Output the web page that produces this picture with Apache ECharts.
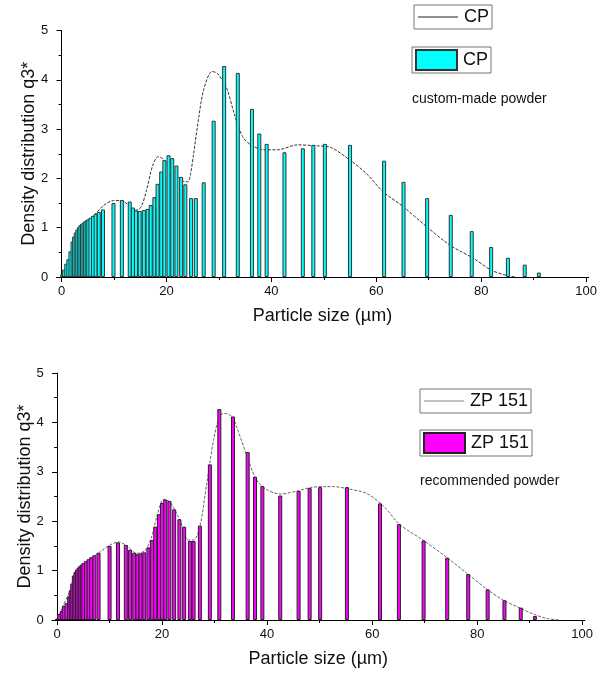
<!DOCTYPE html>
<html>
<head>
<meta charset="utf-8">
<script src="https://cdn.jsdelivr.net/npm/echarts@6/dist/echarts.min.js"></script>
<style>
  html, body { margin: 0; padding: 0; background: #fff; }
  #chartDiv { width: 600px; height: 675px; }
</style>
</head>
<body>
<div id="chartDiv"></div>
<script>
// bar classes (particle size, µm) and q3* values
var cpBarX = [0.1, 0.5, 0.9, 1.3, 1.7, 2.1, 2.4, 2.7, 3.0, 3.3, 3.6, 3.9, 4.2, 4.5, 4.8, 5.1, 5.5, 6.0, 6.5, 7.1, 7.9,
  9.9, 11.5, 13.0, 13.6, 14.2, 14.9, 15.7, 16.4, 17.0, 17.7, 18.3, 19.0, 19.6, 20.4, 21.1, 21.9, 22.8, 23.6, 24.7, 25.6,
  27.1, 29.0, 31.0, 33.6, 36.3, 37.7, 39.1, 42.5, 46.0, 48.0, 50.2, 55.0, 61.5, 65.2, 69.7, 74.2, 78.2, 81.9, 85.1, 88.3, 91.0];
var cpBarY = [0.05, 0.15, 0.27, 0.36, 0.52, 0.72, 0.82, 0.90, 0.96, 1.01, 1.05, 1.08, 1.10, 1.13, 1.15, 1.17, 1.20, 1.24, 1.28, 1.32, 1.37,
  1.50, 1.56, 1.53, 1.41, 1.35, 1.34, 1.36, 1.38, 1.46, 1.62, 1.89, 2.14, 2.37, 2.47, 2.41, 2.26, 2.03, 1.88, 1.60, 1.60,
  1.92, 3.17, 4.28, 4.14, 3.41, 2.91, 2.70, 2.53, 2.61, 2.68, 2.70, 2.68, 2.36, 1.93, 1.60, 1.26, 0.93, 0.61, 0.39, 0.25, 0.09];

var cpLineX = [0, 0.8, 1.7, 2.6, 3.3, 4.2, 6.1, 8.0, 9.9, 11.5, 12.5, 13.5, 14.5, 15.3, 16.2, 17.4, 18.4, 19.3, 20.5, 22.0,
  23.3, 24.1, 24.6, 25.1, 25.9, 27.1, 28.7, 29.7, 30.6, 31.6, 32.9, 34.5, 36.1, 38.6, 41.1, 45.0, 48.8, 51.3, 55.0,
  58.1, 61.3, 65.1, 69.6, 74.0, 78.5, 81.9, 84.9, 86.5];
var cpLineY = [0, 0.15, 0.42, 0.79, 0.95, 1.08, 1.24, 1.45, 1.55, 1.55, 1.48, 1.38, 1.36, 1.45, 1.76, 2.27, 2.44, 2.40, 2.25, 2.05,
  1.94, 1.93, 2.10, 2.44, 3.05, 3.80, 4.17, 4.13, 4.00, 3.80, 3.32, 2.85, 2.68, 2.58, 2.58, 2.68, 2.66, 2.63, 2.37,
  2.10, 1.73, 1.43, 1.02, 0.65, 0.38, 0.14, 0.03, 0];

var zpBarX = [0.0, 0.4, 0.9, 1.3, 1.8, 2.3, 2.6, 2.9, 3.2, 3.5, 3.8, 4.1, 4.4, 4.7, 5.0, 5.5, 6.0, 6.5, 7.1, 7.9,
  10.0, 11.6, 13.1, 13.9, 14.7, 15.3, 15.9, 16.6, 17.4, 18.1, 18.7, 19.4, 20.0, 20.6, 21.4, 22.3, 23.3, 24.2, 25.3, 26.0,
  27.2, 29.1, 30.9, 33.5, 36.3, 37.7, 39.1, 42.5, 46.0, 48.1, 50.1, 55.2, 61.5, 65.1, 69.8, 74.3, 78.3, 82.0, 85.2, 88.3, 91.0];
var zpBarY = [0.03, 0.12, 0.18, 0.28, 0.34, 0.48, 0.60, 0.74, 0.90, 0.97, 1.02, 1.06, 1.09, 1.12, 1.15, 1.19, 1.23, 1.27, 1.31, 1.36,
  1.50, 1.57, 1.52, 1.42, 1.36, 1.33, 1.35, 1.37, 1.47, 1.62, 1.89, 2.14, 2.37, 2.44, 2.41, 2.24, 2.04, 1.89, 1.60, 1.60,
  1.91, 3.15, 4.27, 4.12, 3.40, 2.90, 2.71, 2.52, 2.61, 2.67, 2.69, 2.69, 2.36, 1.94, 1.61, 1.26, 0.93, 0.62, 0.40, 0.25, 0.08];

var zpLineX = [0, 1.2, 2.5, 3.2, 4.4, 6.3, 8.2, 10.1, 11.7, 13.3, 15.2, 16.8, 18.0, 19.0, 20.3, 21.5, 23.4, 25.0, 26.0, 27.2,
  28.5, 29.8, 31.0, 32.0, 33.3, 34.2, 36.1, 38.0, 39.9, 42.5, 45.7, 48.2, 50.7, 52.6, 55.2, 59.0, 62.2, 65.3, 69.8,
  74.3, 78.0, 81.9, 85.0, 88.2, 90.7, 93.3, 95.8];
var zpLineY = [0, 0.30, 0.60, 0.88, 1.06, 1.23, 1.38, 1.52, 1.58, 1.50, 1.35, 1.41, 1.68, 2.09, 2.44, 2.39, 2.02, 1.62, 1.62, 1.89,
  2.76, 3.64, 4.14, 4.18, 4.12, 3.91, 3.34, 2.83, 2.64, 2.55, 2.61, 2.68, 2.70, 2.70, 2.66, 2.56, 2.30, 1.93, 1.61,
  1.26, 0.95, 0.62, 0.40, 0.24, 0.12, 0.03, 0];

var majorTicks = [0, 20, 40, 60, 80, 100];
var minorTicks = [10, 30, 50, 70, 90];

var FONT = 'Liberation Sans, Arial, sans-serif';

function pair(xs, ys) {
  var out = [];
  for (var i = 0; i < xs.length; i++) out.push([xs[i], ys[i]]);
  return out;
}

function xAxisMain(gridIndex) {
  return {
    type: 'value', gridIndex: gridIndex, min: -1, max: 100.5,
    name: 'Particle size (µm)', nameLocation: 'middle', nameGap: 30, nameMoveOverlap: false,
    nameTextStyle: { fontSize: 18, color: '#111', fontFamily: FONT },
    axisLine: { show: true, onZero: false, lineStyle: { color: '#000', width: 1 } },
    axisTick: { show: true, length: 5, customValues: majorTicks, lineStyle: { color: '#000' } },
    axisLabel: { customValues: majorTicks, fontSize: 13, color: '#111', fontFamily: FONT, margin: 8 },
    splitLine: { show: false }
  };
}
function xAxisMinor(gridIndex) {
  return {
    type: 'value', gridIndex: gridIndex, min: -1, max: 100.5, position: 'bottom',
    axisLine: { show: false },
    axisTick: { show: true, length: 3, customValues: minorTicks, lineStyle: { color: '#000' } },
    axisLabel: { show: false },
    splitLine: { show: false }
  };
}
function yAxis(gridIndex) {
  return {
    type: 'value', gridIndex: gridIndex, min: 0, max: 5, interval: 1,
    name: 'Density distribution q3*', nameLocation: 'middle', nameGap: 18, nameMoveOverlap: false,
    nameTextStyle: { fontSize: 18, color: '#111', fontFamily: FONT },
    axisLine: { show: true, lineStyle: { color: '#000', width: 1 } },
    axisTick: { show: true, length: 5, lineStyle: { color: '#000' } },
    minorTick: { show: true, splitNumber: 2, length: 3, lineStyle: { color: '#000' } },
    axisLabel: { fontSize: 13, color: '#111', fontFamily: FONT, margin: 8 },
    splitLine: { show: false }
  };
}
function legendBox(name, shown, left, top, isLine) {
  return {
    data: [name], left: left, top: top, selectedMode: false,
    formatter: shown, icon: 'rect',
    itemWidth: isLine ? 40 : 41, itemHeight: isLine ? 1 : 20, itemGap: 0,
    padding: isLine ? [3, 3, 3, 4] : [2, 3, 2, 3],
    borderColor: '#777', borderWidth: 1, borderRadius: 0,
    textStyle: { fontSize: 18, color: '#111', fontFamily: FONT, padding: [0, 0, 0, 1] }
  };
}

var option = {
  backgroundColor: '#fff',
  animation: false,
  grid: [
    { left: 56.3, top: 30.5, width: 532.4, height: 246.5 },
    { left: 51.8, top: 373, width: 533, height: 247 }
  ],
  xAxis: [xAxisMain(0), xAxisMinor(0), xAxisMain(1), xAxisMinor(1)],
  yAxis: [yAxis(0), yAxis(1)],
  legend: [
    legendBox('CP line', 'CP', 414, 5, true),
    legendBox('CP bar', 'CP', 412, 47, false),
    legendBox('ZP 151 line', 'ZP 151', 420, 389, true),
    legendBox('ZP 151 bar', 'ZP 151', 420, 430, false)
  ],
  title: [
    { text: 'custom-made powder', left: 412, top: 92, padding: 0,
      textStyle: { fontSize: 14, fontWeight: 'normal', color: '#111', fontFamily: FONT } },
    { text: 'recommended powder', left: 420, top: 474, padding: 0,
      textStyle: { fontSize: 14, fontWeight: 'normal', color: '#111', fontFamily: FONT } }
  ],
  series: [
    {
      name: 'CP line', type: 'line', xAxisIndex: 0, yAxisIndex: 0, z: 1,
      data: pair(cpLineX, cpLineY), smooth: 0.3, showSymbol: false, color: '#222',
      lineStyle: { color: '#333', width: 1, type: [3, 1.5] }
    },
    {
      name: 'CP bar', type: 'bar', xAxisIndex: 0, yAxisIndex: 0, z: 3,
      data: pair(cpBarX, cpBarY), barWidth: 4,
      itemStyle: { color: '#00ffff', borderColor: '#333', borderWidth: 1 }
    },
    {
      name: 'ZP 151 line', type: 'line', xAxisIndex: 2, yAxisIndex: 1, z: 1,
      data: pair(zpLineX, zpLineY), smooth: 0.3, showSymbol: false, color: '#888',
      lineStyle: { color: '#666', width: 1, type: [3, 1.5] }
    },
    {
      name: 'ZP 151 bar', type: 'bar', xAxisIndex: 2, yAxisIndex: 1, z: 3,
      data: pair(zpBarX, zpBarY), barWidth: 4,
      itemStyle: { color: '#ff00ff', borderColor: '#222', borderWidth: 1 }
    }
  ]
};

var myChart = echarts.init(document.getElementById('chartDiv'));
myChart.setOption(option, true);
</script>
</body>
</html>
